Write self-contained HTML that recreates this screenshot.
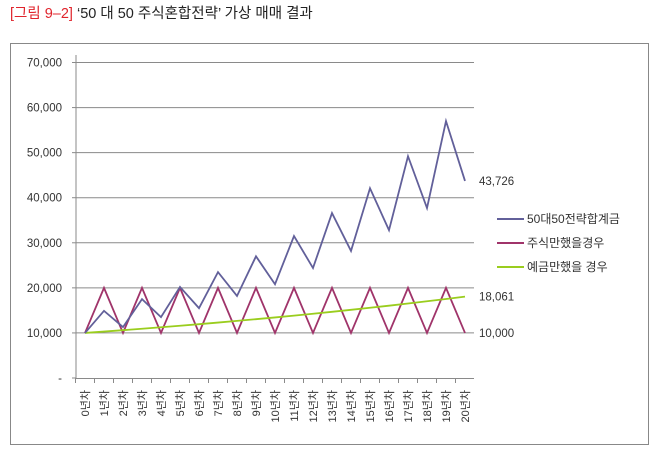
<!DOCTYPE html>
<html><head><meta charset="utf-8"><style>
body{margin:0;background:#fff;width:657px;height:457px;overflow:hidden;font-family:"Liberation Sans","Noto Sans CJK KR",sans-serif}
svg text{font-family:"Liberation Sans","Noto Sans CJK KR",sans-serif}
</style></head><body>
<svg width="657" height="457">
<text x="10" y="18" font-size="14.5"><tspan fill="#e0242c">[그림 9–2]</tspan><tspan fill="#222"> ‘50 대 50 주식혼합전략’ 가상 매매 결과</tspan></text>
<rect x="10.5" y="43.5" width="638" height="401" fill="none" stroke="#888"/>
<g id="grid"></g><g id="axes"></g><g id="series"></g><g id="labels"></g>
<g font-size="12" fill="#333">
<line x1="497" y1="219" x2="524" y2="219" stroke="#62609a" stroke-width="2"/><text x="527" y="223">50대50전략합계금</text>
<line x1="497" y1="243" x2="524" y2="243" stroke="#a0346a" stroke-width="2"/><text x="527" y="247">주식만했을경우</text>
<line x1="497" y1="267" x2="524" y2="267" stroke="#9acd1e" stroke-width="2"/><text x="527" y="271">예금만했을 경우</text>
</g>
</svg>
<script>
const categories=["0년차","1년차","2년차","3년차","4년차","5년차","6년차","7년차","8년차","9년차","10년차","11년차","12년차","13년차","14년차","15년차","16년차","17년차","18년차","19년차","20년차"];
const mixed=[10000,14900,11300,17500,13500,20200,15500,23500,18200,27000,20800,31500,24400,36600,28200,42100,32800,49200,37700,57000,43726];
const stock=[10000,20000,10000,20000,10000,20000,10000,20000,10000,20000,10000,20000,10000,20000,10000,20000,10000,20000,10000,20000,10000];
const deposit=[10000,10300,10609,10927,11255,11593,11941,12299,12668,13048,13439,13842,14258,14685,15126,15580,16047,16528,17024,17535,18061];
const yTicks=[0,10000,20000,30000,40000,50000,60000,70000];
const yTickLabels=["-","10,000","20,000","30,000","40,000","50,000","60,000","70,000"];
const NS="http://www.w3.org/2000/svg";
const y=v=>378-v/70000*315.5;
const x=i=>85+i*19;
function mk(t,a,p){const e=document.createElementNS(NS,t);for(const k in a)e.setAttribute(k,a[k]);p.appendChild(e);return e;}
const grid=document.getElementById('grid'),axes=document.getElementById('axes'),ser=document.getElementById('series'),lab=document.getElementById('labels');
yTicks.forEach((v,i)=>{
 if(v>0){const g=mk('line',{x1:76,x2:474,y1:y(v),y2:y(v),stroke:'#8a8a8a'},grid);
 
 }
 mk('line',{x1:72,x2:76,y1:y(v),y2:y(v),stroke:'#8a8a8a'},axes);
 const t=mk('text',{x:62,y:y(v)+4,'text-anchor':'end','font-size':11.5,fill:'#333'},axes);t.textContent=yTickLabels[i];
 
 
});
mk('line',{x1:76,x2:76,y1:55,y2:378,stroke:'#8a8a8a'},axes);
mk('line',{x1:76,x2:474,y1:378.5,y2:378.5,stroke:'#8a8a8a'},axes);
categories.forEach((c,i)=>{
 mk('line',{x1:x(i)-9.5,x2:x(i)-9.5,y1:378,y2:383,stroke:'#8a8a8a'},axes);
 const t=mk('text',{transform:`translate(${x(i)+4},390) rotate(-90)`,'text-anchor':'end','font-size':11,fill:'#333'},axes);t.textContent=c;
 
 
});
function line(d,col,name){const p=mk('polyline',{points:d.map((v,i)=>x(i)+','+y(v)).join(' '),fill:'none',stroke:col,'stroke-width':1.8},ser);
 
 }
line(stock,'#a0346a','series-stock');
line(deposit,'#9acd1e','series-deposit');
line(mixed,'#62609a','series-mixed');
[[mixed[20]],[deposit[20]],[stock[20]]].forEach(([v])=>{
 const t=mk('text',{x:479,y:y(v)+4,'font-size':11.5,fill:'#333'},lab);t.textContent=v.toLocaleString('en-US');
 
 
});
</script>
</body></html>
